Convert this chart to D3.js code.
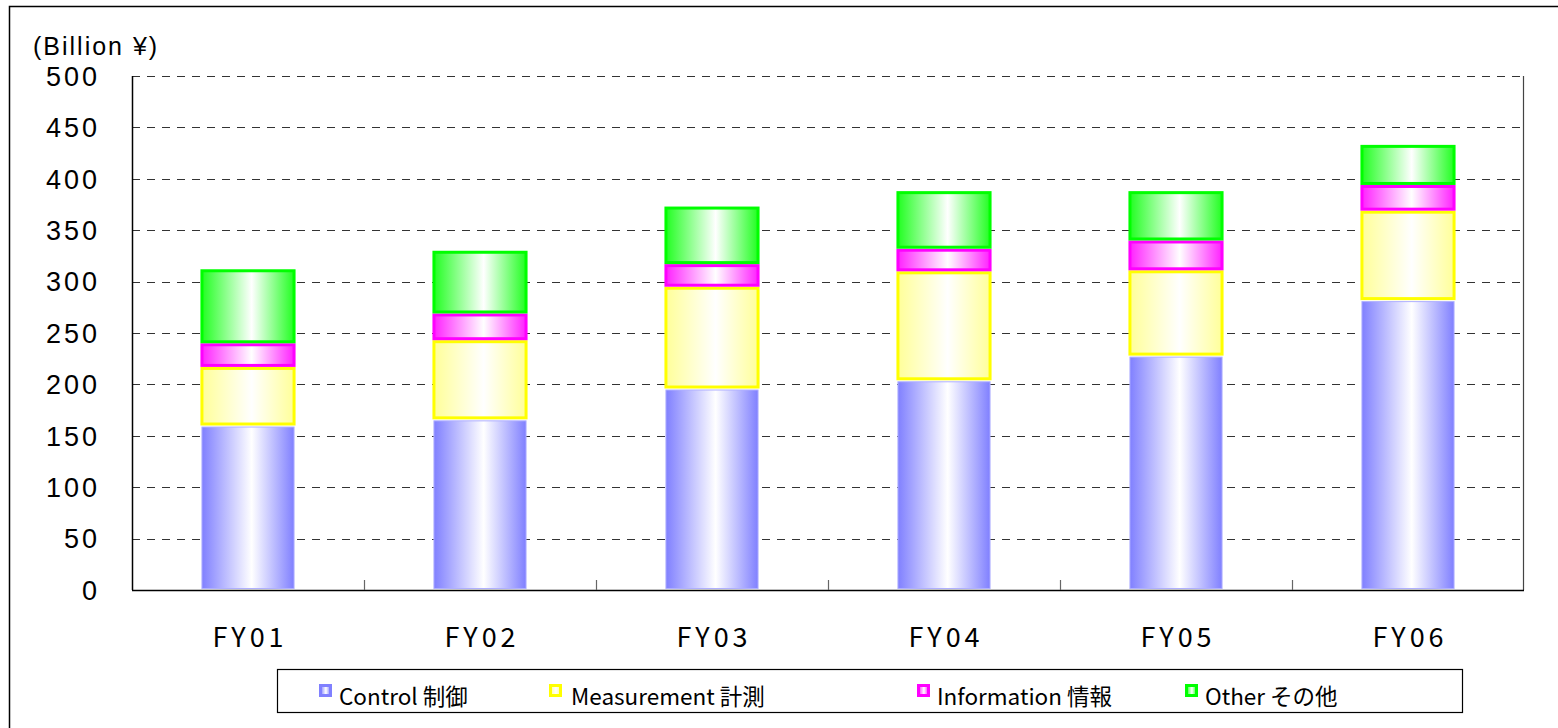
<!DOCTYPE html>
<html>
<head>
<meta charset="utf-8">
<script src="https://cdn.jsdelivr.net/npm/d3@7"></script>
<style>
  body { margin: 0; background: #fff; overflow: hidden; }
  text { font-family: "Noto Sans CJK JP", "DejaVu Sans", sans-serif; fill: #000; }
  .num { font-family: "Liberation Sans", Arial, sans-serif; }
</style>
</head>
<body>
<svg width="1558" height="728"></svg>
<script>
// data
var categories = ["FY01", "FY02", "FY03", "FY04", "FY05", "FY06"];
var control = [160, 166, 196, 204, 228, 282];
var measurement = [57, 77, 99, 106, 83, 87];
var information = [23, 26, 22, 22, 29, 25];
var other = [72, 61, 56, 56, 48, 39];
var yTicks = [0, 50, 100, 150, 200, 250, 300, 350, 400, 450, 500];

var seriesNames = ["Control 制御", "Measurement 計測", "Information 情報", "Other その他"];
var seriesKeys = ["control", "measurement", "information", "other"];
var edgeColors = ["#8080ff", "#ffff99", "#ff22ff", "#22ff22"];
var strokeColors = ["#b0b0ff", "#ffff00", "#ff00ff", "#00ff00"];

var svg = d3.select("svg"),
    width = +svg.attr("width"),
    height = +svg.attr("height");

var plot = {left: 132, right: 1524, top: 76, bottom: 590};

// table for the stack
var table = categories.map(function(c, i) {
  return {cat: c, control: control[i], measurement: measurement[i],
          information: information[i], other: other[i]};
});
var stacked = d3.stack().keys(seriesKeys)(table);

var x = d3.scaleBand()
    .domain(categories)
    .range([plot.left, plot.right])
    .paddingInner(0.59)
    .paddingOuter(0.295);

var y = d3.scaleLinear()
    .domain([0, 500])
    .range([plot.bottom, plot.top]);

// gradients: colour at the edges, white in the middle
var defs = svg.append("defs");
edgeColors.forEach(function(c, i) {
  var g = defs.append("linearGradient")
      .attr("id", "grad" + i)
      .attr("x1", "0%").attr("x2", "100%")
      .attr("y1", "0%").attr("y2", "0%");
  g.append("stop").attr("offset", "0%").attr("stop-color", c);
  g.append("stop").attr("offset", "54%").attr("stop-color", "#ffffff");
  g.append("stop").attr("offset", "100%").attr("stop-color", c);
});

// outer frame (runs off the right and bottom of the picture)
svg.append("rect")
    .attr("x", 9.5).attr("y", 6.5)
    .attr("width", 1560).attr("height", 740)
    .attr("fill", "none")
    .attr("stroke", "#000")
    .attr("stroke-width", 1.5);

// grid lines
svg.append("g")
  .selectAll("line")
  .data(yTicks.filter(function(d) { return d > 0; }))
  .enter().append("line")
    .attr("x1", plot.left).attr("x2", plot.right)
    .attr("y1", function(d) { return Math.round(y(d)) + 0.5; })
    .attr("y2", function(d) { return Math.round(y(d)) + 0.5; })
    .attr("stroke", "#333")
    .attr("stroke-width", 1.2)
    .attr("stroke-dasharray", "8,7");

// y labels
svg.append("g")
  .selectAll("text")
  .data(yTicks)
  .enter().append("text")
    .attr("class", "num")
    .attr("x", 100)
    .attr("y", function(d) { return y(d); })
    .attr("dy", "0.36em")
    .attr("text-anchor", "end")
    .style("font-size", "27px")
    .style("letter-spacing", "3px")
    .text(function(d) { return d; });

svg.append("text")
    .attr("class", "num")
    .attr("x", 33).attr("y", 55)
    .style("font-size", "25px")
    .style("letter-spacing", "2px")
    .text("(Billion ¥)");

// bars
var layer = svg.append("g")
  .selectAll("g")
  .data(stacked)
  .enter().append("g");

layer.selectAll("rect")
  .data(function(d) { return d.map(function(p) { return {p: p, k: d.index}; }); })
  .enter().append("rect")
    .attr("x", function(d) { return x(d.p.data.cat) + 1.5; })
    .attr("width", x.bandwidth() - 3)
    .attr("y", function(d) { return y(d.p[1]) + 1.5; })
    .attr("height", function(d) { return y(d.p[0]) - y(d.p[1]) - 3; })
    .attr("fill", function(d) { return "url(#grad" + d.k + ")"; })
    .attr("stroke", function(d) { return strokeColors[d.k]; })
    .attr("stroke-width", function(d) { return d.k === 0 ? 1 : 3; });

// axis lines
svg.append("line")
    .attr("x1", plot.left + 0.5).attr("x2", plot.left + 0.5)
    .attr("y1", plot.top).attr("y2", plot.bottom)
    .attr("stroke", "#000").attr("stroke-width", 1.5);
svg.append("line")
    .attr("x1", plot.right - 0.5).attr("x2", plot.right - 0.5)
    .attr("y1", plot.top).attr("y2", plot.bottom)
    .attr("stroke", "#444").attr("stroke-width", 1.2);
svg.append("line")
    .attr("x1", plot.left).attr("x2", plot.right)
    .attr("y1", plot.bottom + 0.5).attr("y2", plot.bottom + 0.5)
    .attr("stroke", "#000").attr("stroke-width", 1.5);

// x ticks between categories, pointing up
svg.append("g")
  .selectAll("line")
  .data(categories.slice(1))
  .enter().append("line")
    .attr("x1", function(d) { return Math.round(x(d) - x.step() * 0.295) + 0.5; })
    .attr("x2", function(d) { return Math.round(x(d) - x.step() * 0.295) + 0.5; })
    .attr("y1", plot.bottom - 10).attr("y2", plot.bottom)
    .attr("stroke", "#666").attr("stroke-width", 1.2);

// x labels
svg.append("g")
  .selectAll("text")
  .data(categories)
  .enter().append("text")
    .attr("x", function(d) { return x(d) + x.bandwidth() / 2 + 2; })
    .attr("y", 647)
    .attr("text-anchor", "middle")
    .style("font-size", "27px")
    .style("letter-spacing", "4px")
    .text(function(d) { return d; });

// legend
svg.append("rect")
    .attr("x", 277.5).attr("y", 669.5)
    .attr("width", 1185).attr("height", 43)
    .attr("fill", "#fff")
    .attr("stroke", "#000").attr("stroke-width", 1.2);

var legendX = [319, 549, 917, 1185];
var item = svg.append("g")
  .selectAll("g")
  .data(seriesNames)
  .enter().append("g")
    .attr("transform", function(d, i) { return "translate(" + legendX[i] + ",684)"; });

item.append("rect")
    .attr("x", 1.5).attr("y", 1.5)
    .attr("width", 10).attr("height", 10)
    .attr("fill", function(d, i) { return "url(#grad" + i + ")"; })
    .attr("stroke", function(d, i) { return i === 0 ? "#8080ff" : strokeColors[i]; })
    .attr("stroke-width", 3);

item.append("text")
    .attr("x", function(d, i) { return i === 1 ? 22 : 20; })
    .attr("y", 21)
    .style("font-size", "22.5px")
    .text(function(d) { return d; });
</script>
</body>
</html>
